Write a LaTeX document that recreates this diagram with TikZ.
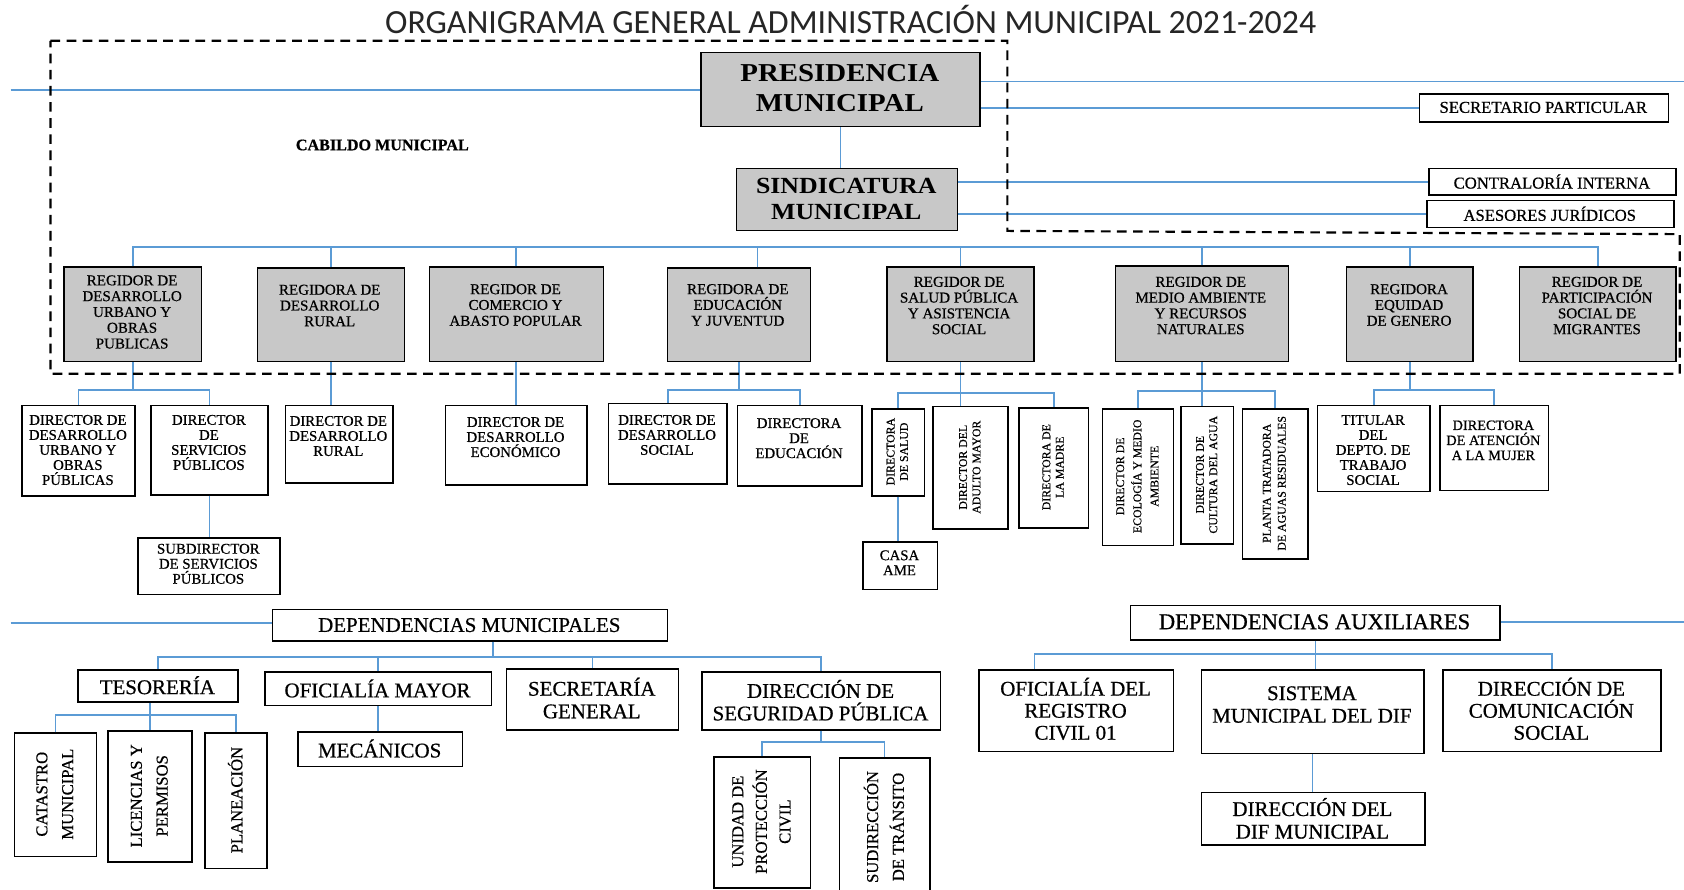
\documentclass[tikz,border=0pt]{standalone}
\usepackage{fontspec}
\setmainfont{Liberation Serif}[FakeBold=0.6]
\newfontfamily\widefam{Liberation Serif}[FakeStretch=1.12]
\newfontfamily\titlefam{Carlito}
\usetikzlibrary{calc}
\definecolor{lblue}{RGB}{91,155,213}
\definecolor{bgray}{RGB}{200,200,200}
\tikzset{
  bx/.style={draw=black, line width=1.4pt, inner sep=0pt, anchor=north west},
  gbx/.style={bx, fill=bgray},
  lk/.style={draw=lblue, line width=1.5pt},
  tt/.style={align=center, inner sep=0pt, text=black},
  regt/.style={tt, font=\fontsize{14}{14.7}\selectfont},
  dirt/.style={tt, font=\fontsize{13.8}{14}\selectfont},
  rott/.style={tt, rotate=90, font=\fontsize{11}{12.5}\selectfont},
  lowt/.style={tt, font=\fontsize{19.5}{21}\selectfont},
  lowrot/.style={tt, rotate=90, font=\fontsize{15.5}{24}\selectfont},
  sidet/.style={tt, font=\fontsize{15.5}{16}\selectfont},
  bigt/.style={tt, font=\widefam\bfseries\fontsize{24}{28}\selectfont},
}
\newcommand\mkbox[6][bx]{\node[#1, minimum width={#5pt-#3pt}, minimum height={#6pt-#4pt}] (#2) at (#3,#4) {};}
\begin{document}
\begin{tikzpicture}[x=1pt,y=-1pt]
\useasboundingbox (0,0) rectangle (1568,828);
\fill[white] (0,0) rectangle (1568,828);

\node[font=\titlefam\fontsize{31.5}{34}\selectfont, text=black!85, inner sep=0pt] (title) at (792,18) {ORGANIGRAMA GENERAL ADMINISTRACIÓN MUNICIPAL 2021-2024};

% ---------- top ----------
\mkbox[gbx]{pres}{652}{48}{912}{117}
\node[bigt] (pres-t) at (782,82) {PRESIDENCIA\\MUNICIPAL};
\mkbox[gbx]{sind}{685}{156}{891}{214}
\node[bigt, font=\widefam\bfseries\fontsize{21.5}{24}\selectfont] (sind-t) at (788,185) {SINDICATURA\\MUNICIPAL};
\mkbox{secp}{1321}{87}{1553}{113}
\node[sidet] (secp-t) at (1437,100) {SECRETARIO PARTICULAR};
\mkbox{contra}{1330}{156}{1560}{181}
\node[sidet] (contra-t) at (1445,169) {CONTRALORÍA INTERNA};
\mkbox{aseso}{1328}{186}{1558}{211}
\node[sidet] (aseso-t) at (1443,199) {ASESORES JURÍDICOS};

\node[tt, font=\bfseries\fontsize{15}{15}\selectfont] (cab) at (356,135) {CABILDO MUNICIPAL};

\coordinate (L1) at (10,84);
\coordinate (R1) at (1568,76);
\draw[lk] (L1) -- (L1 -| pres.west);
\draw[lk] (R1 -| pres.east) -- (R1);
\draw[lk] (pres.east |- secp.west) -- (secp.west);
\draw[lk] (pres.south) -- (pres.south |- sind.north);
\draw[lk] (sind.east |- contra.west) -- (contra.west);
\draw[lk] (sind.east |- aseso.west) -- (aseso.west);

% ---------- regidores ----------
\mkbox[gbx]{r1}{59}{248}{187}{336}
\node[regt] (r1-t) at (123,290.5) {REGIDOR DE\\DESARROLLO\\URBANO Y\\OBRAS\\PUBLICAS};
\mkbox[gbx]{r2}{239}{249}{376}{336}
\node[regt] (r2-t) at (307,284.5) {REGIDORA DE\\DESARROLLO\\RURAL};
\mkbox[gbx]{r3}{399}{248}{561}{336}
\node[regt] (r3-t) at (480,284) {REGIDOR DE\\COMERCIO Y\\ABASTO POPULAR};
\mkbox[gbx]{r4}{621}{249}{754}{336}
\node[regt] (r4-t) at (687,284) {REGIDORA DE\\EDUCACIÓN\\Y JUVENTUD};
\mkbox[gbx]{r5}{825}{248}{962}{336}
\node[regt] (r5-t) at (893,284.5) {REGIDOR DE\\SALUD PÚBLICA\\Y ASISTENCIA\\SOCIAL};
\mkbox[gbx]{r6}{1038}{247}{1199}{336}
\node[regt] (r6-t) at (1118,284.5) {REGIDOR DE\\MEDIO AMBIENTE\\Y RECURSOS\\NATURALES};
\mkbox[gbx]{r7}{1253}{248}{1371}{336}
\node[regt] (r7-t) at (1312,284) {REGIDORA\\EQUIDAD\\DE GENERO};
\mkbox[gbx]{r8}{1414}{248}{1560}{336}
\node[regt] (r8-t) at (1487,284.5) {REGIDOR DE\\PARTICIPACIÓN\\SOCIAL DE\\MIGRANTES};

\coordinate (busA) at (0,230);
\coordinate (r4d) at ($(r4.north)+(17,0)$);
\draw[lk] (r1.north) |- (r8.north |- busA) -- (r8.north);
\foreach \n in {r2,r3,r5,r6,r7} \draw[lk] (\n.north) -- (\n.north |- busA);
\draw[lk] (r4d) -- (r4d |- busA);

% ---------- directores ----------
\mkbox{d1a}{20}{377}{125}{461}
\node[dirt] (d1a-t) at (72.5,419) {DIRECTOR DE\\DESARROLLO\\URBANO Y\\OBRAS\\PÚBLICAS};
\mkbox{d1b}{140}{377}{249}{460}
\node[dirt] (d1b-t) at (194.5,412) {DIRECTOR\\DE\\SERVICIOS\\PÚBLICOS};
\mkbox{sub}{128}{500}{260}{553}
\node[dirt] (sub-t) at (194,525) {SUBDIRECTOR\\DE SERVICIOS\\PÚBLICOS};
\mkbox{d2}{265}{377}{365}{449}
\node[dirt] (d2-t) at (315,406) {DIRECTOR DE\\DESARROLLO\\RURAL};
\mkbox{d3}{414}{377}{546}{451}
\node[dirt] (d3-t) at (480,407) {DIRECTOR DE\\DESARROLLO\\ECONÓMICO};
\mkbox{d4a}{566}{375}{676}{450}
\node[dirt] (d4a-t) at (621,405) {DIRECTOR DE\\DESARROLLO\\SOCIAL};
\mkbox{d4b}{686}{377}{802}{452}
\node[dirt] (d4b-t) at (744,408) {DIRECTORA\\DE\\EDUCACIÓN};
\mkbox{d5a}{811}{380}{860}{461}
\node[rott] (d5a-t) at (835.5,420.5) {DIRECTORA\\DE SALUD};
\mkbox{casa}{803}{504}{872}{548}
\node[dirt] (casa-t) at (837.5,524) {CASA\\AME};
\mkbox{d5b}{868}{378}{938}{492}
\node[rott] (d5b-t) at (903,435) {DIRECTOR DEL\\ADULTO MAYOR};
\mkbox{d5c}{948}{379}{1013}{491}
\node[rott] (d5c-t) at (980.5,435) {DIRECTORA DE\\LA MADRE};
\mkbox{d6a}{1026}{380}{1092}{507}
\node[rott, font=\fontsize{11}{16}\selectfont] (d6a-t) at (1059,443.5) {DIRECTOR DE\\ECOLOGÍA Y MEDIO\\AMBIENTE};
\mkbox{d6b}{1099}{378}{1148}{506}
\node[rott] (d6b-t) at (1123.5,442) {DIRECTOR DE\\CULTURA DEL AGUA};
\mkbox{d6c}{1156}{380}{1217}{520}
\node[rott, font=\fontsize{11}{14}\selectfont] (d6c-t) at (1186.5,450) {PLANTA TRATADORA\\DE AGUAS RESIDUALES};
\mkbox{d7a}{1226}{377}{1331}{457}
\node[dirt] (d7a-t) at (1278.5,419) {TITULAR\\DEL\\DEPTO. DE\\TRABAJO\\SOCIAL};
\mkbox{d7b}{1340}{377}{1441}{456}
\node[dirt, font=\fontsize{13.3}{14}\selectfont] (d7b-t) at (1390.5,410) {DIRECTORA\\DE ATENCIÓN\\A LA MUJER};

\coordinate (b1) at (0,363);
\coordinate (b4) at (0,363);
\coordinate (b5) at (0,366);
\coordinate (b6) at (0,364);
\coordinate (b7) at (0,363);
\draw[lk] (r1.south) -- (r1.south |- b1);
\draw[lk] (d1a.north) |- (d1b.north |- b1) -- (d1b.north);
\draw[lk] (d1b.south) -- (d1b.south |- sub.north);
\draw[lk] (r2.south) -- (r2.south |- d2.north);
\draw[lk] (r3.south) -- (r3.south |- d3.north);
\draw[lk] (r4.south) -- (r4.south |- b4);
\draw[lk] (d4a.north) |- (d4b.north |- b4) -- (d4b.north);
\draw[lk] (r5.south) -- (r5.south |- d5b.north);
\draw[lk] (d5a.north) |- (d5c.north |- b5) -- (d5c.north);
\draw[lk] (d5a.south) -- (d5a.south |- casa.north);
\draw[lk] (r6.south) -- (r6.south |- d6b.north);
\draw[lk] (d6a.north) |- (d6c.north |- b6) -- (d6c.north);
\draw[lk] (r7.south) -- (r7.south |- b7);
\draw[lk] (d7a.north) |- (d7b.north |- b7) -- (d7b.north);

% ---------- dependencias municipales ----------
\mkbox{dm}{253}{567}{621}{596}
\node[lowt] (dm-t) at (437,582) {DEPENDENCIAS MUNICIPALES};
\mkbox{tes}{72}{623}{221}{653}
\node[lowt] (tes-t) at (146.5,638) {TESORERÍA};
\mkbox{ofm}{246}{625}{457}{656}
\node[lowt] (ofm-t) at (351.5,641) {OFICIALÍA MAYOR};
\mkbox{sg}{471}{622}{631}{679}
\node[lowt] (sg-t) at (551,650) {SECRETARÍA\\GENERAL};
\mkbox{dsp}{653}{625}{875}{679}
\node[lowt] (dsp-t) at (764,652) {DIRECCIÓN DE\\SEGURIDAD PÚBLICA};
\mkbox{cat}{13}{682}{89}{797}
\node[lowrot] (cat-t) at (51,739.5) {CATASTRO\\MUNICIPAL};
\mkbox{lic}{100}{680}{178}{802}
\node[lowrot] (lic-t) at (139,741) {LICENCIAS Y\\PERMISOS};
\mkbox{pla}{190}{682}{248}{808}
\node[lowrot] (pla-t) at (219,745) {PLANEACIÓN};
\mkbox{mec}{277}{681}{430}{713}
\node[lowt] (mec-t) at (353.5,697) {MECÁNICOS};
\mkbox{upc}{664}{704}{754}{826}
\node[lowrot, font=\fontsize{15.5}{22}\selectfont] (upc-t) at (709,765) {UNIDAD DE\\PROTECCIÓN\\CIVIL};
\mkbox{sdt}{781}{705}{865}{845}
\node[lowrot] (sdt-t) at (823,770) {SUDIRECCIÓN\\DE TRÁNSITO};

\coordinate (Lm) at (10,580);
\coordinate (bm) at (0,612);
\coordinate (bt) at (0,666);
\coordinate (bd) at (0,691);
\coordinate (dmd) at ($(dm.south west)+(206,0)$);
\draw[lk] (Lm) -- (Lm -| dm.west);
\draw[lk] (dmd) -- (dmd |- bm);
\draw[lk] (tes.north) |- (dsp.north |- bm) -- (dsp.north);
\draw[lk] (ofm.north) -- (ofm.north |- bm);
\draw[lk] (sg.north) -- (sg.north |- bm);
\draw[lk] (lic.north |- tes.south) -- (lic.north);
\draw[lk] (cat.north) |- (pla.north |- bt) -- (pla.north);
\draw[lk] (ofm.south) -- (ofm.south |- mec.north);
\draw[lk] (dsp.south) -- (dsp.south |- bd);
\draw[lk] (upc.north) |- (sdt.north |- bd) -- (sdt.north);

% ---------- dependencias auxiliares ----------
\mkbox{da}{1052}{563}{1396}{595}
\node[lowt, font=\fontsize{21}{22}\selectfont] (da-t) at (1224,579) {DEPENDENCIAS AUXILIARES};
\mkbox{orc}{911}{623}{1092}{699}
\node[lowt, font=\fontsize{19.5}{20.5}\selectfont] (orc-t) at (1001.5,660) {OFICIALÍA DEL\\REGISTRO\\CIVIL 01};
\mkbox{smd}{1118}{623}{1325}{701}
\node[lowt] (smd-t) at (1221.5,656) {SISTEMA\\MUNICIPAL DEL DIF};
\mkbox{dcs}{1343}{623}{1546}{699}
\node[lowt, font=\fontsize{19.5}{20.5}\selectfont] (dcs-t) at (1444.5,660) {DIRECCIÓN DE\\COMUNICACIÓN\\SOCIAL};
\mkbox{ddm}{1118}{737}{1326}{786}
\node[lowt] (ddm-t) at (1222,762) {DIRECCIÓN DEL\\DIF MUNICIPAL};

\coordinate (Ra) at (1568,579);
\coordinate (ba) at (0,609);
\coordinate (orcd) at ($(orc.north)+(-39,0)$);
\draw[lk] (Ra -| da.east) -- (Ra);
\draw[lk] (da.south) -- (da.south |- smd.north);
\draw[lk] (orcd) |- (dcs.north |- ba) -- (dcs.north);
\draw[lk] (smd.south) -- (smd.south |- ddm.north);

% ---------- cabildo frame ----------
\draw[black, line width=2pt, dash pattern=on 9pt off 6pt]
  (47,38) -- (938,38) -- (938,215) -- (1564,218) -- (1564,348) -- (47,348) -- cycle;
\end{tikzpicture}
\end{document}
